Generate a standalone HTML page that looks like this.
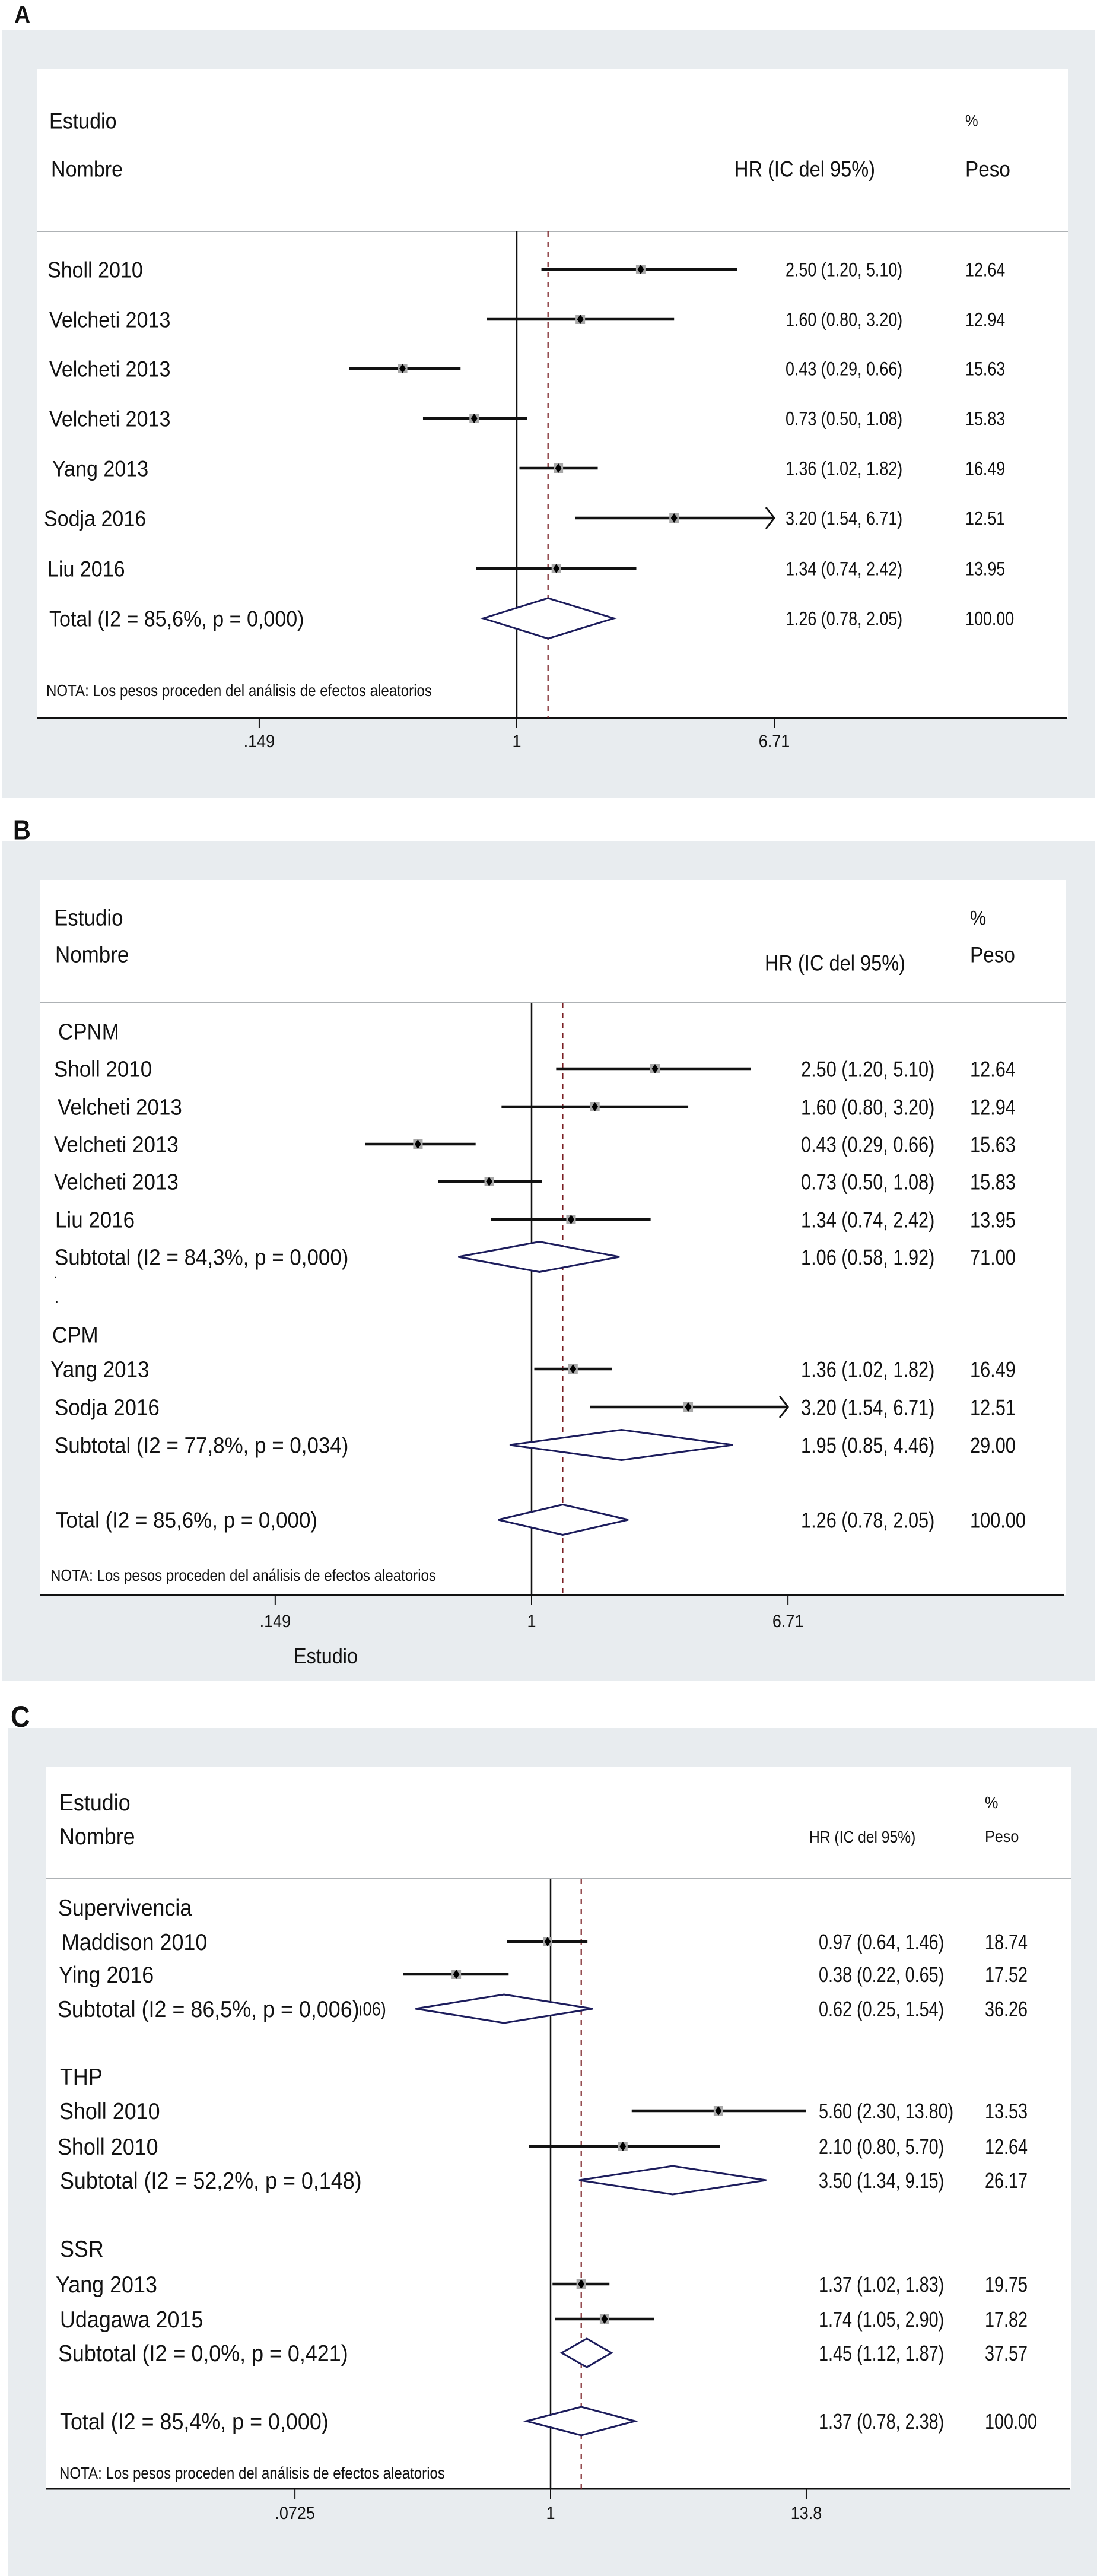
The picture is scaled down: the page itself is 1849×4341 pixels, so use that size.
<!DOCTYPE html>
<html><head><meta charset="utf-8"><style>html,body{margin:0;padding:0;background:#fff}svg{display:block}</style></head>
<body>
<svg id="fig" xmlns="http://www.w3.org/2000/svg" width="1849" height="4341" viewBox="0 0 1849 4341"></svg>
<script>
// ===== Panel A data =====
const labelsA = ["Sholl 2010","Velcheti 2013","Velcheti 2013","Velcheti 2013","Yang 2013","Sodja 2016","Liu 2016","Total (I2 = 85,6%, p = 0,000)"];
const typesA  = ["s","s","s","s","s","s","s","d"];
const estA    = [2.50,1.60,0.43,0.73,1.36,3.20,1.34,1.26];
const loA     = [1.20,0.80,0.29,0.50,1.02,1.54,0.74,0.78];
const hiA     = [5.10,3.20,0.66,1.08,1.82,6.71,2.42,2.05];
const weightA = [12.64,12.94,15.63,15.83,16.49,12.51,13.95,100.00];
const ticksA  = [0.149,1,6.71];
const tickLabelsA = [".149","1","6.71"];
const overallA = 1.26;
// ===== Panel B data =====
const labelsB = ["CPNM","Sholl 2010","Velcheti 2013","Velcheti 2013","Velcheti 2013","Liu 2016","Subtotal (I2 = 84,3%, p  = 0,000)","CPM","Yang 2013","Sodja 2016","Subtotal (I2 = 77,8%, p = 0,034)","Total (I2 = 85,6%, p   = 0,000)"];
const typesB  = ["h","s","s","s","s","s","d","h","s","s","d","d"];
const estB    = [null,2.50,1.60,0.43,0.73,1.34,1.06,null,1.36,3.20,1.95,1.26];
const loB     = [null,1.20,0.80,0.29,0.50,0.74,0.58,null,1.02,1.54,0.85,0.78];
const hiB     = [null,5.10,3.20,0.66,1.08,2.42,1.92,null,1.82,6.71,4.46,2.05];
const weightB = [null,12.64,12.94,15.63,15.83,13.95,71.00,null,16.49,12.51,29.00,100.00];
const ticksB  = [0.149,1,6.71];
const tickLabelsB = [".149","1","6.71"];
const overallB = 1.26;
// ===== Panel C data =====
const labelsC = ["Supervivencia","Maddison 2010","Ying 2016","Subtotal (I2 = 86,5%, p = 0,006)","THP","Sholl 2010","Sholl 2010","Subtotal (I2 = 52,2%, p = 0,148)","SSR","Yang 2013","Udagawa 2015","Subtotal (I2 = 0,0%, p = 0,421)","Total (I2 = 85,4%, p = 0,000)"];
const typesC  = ["h","s","s","d","h","s","s","d","h","s","s","d","d"];
const estC    = [null,0.97,0.38,0.62,null,5.60,2.10,3.50,null,1.37,1.74,1.45,1.37];
const loC     = [null,0.64,0.22,0.25,null,2.30,0.80,1.34,null,1.02,1.05,1.12,0.78];
const hiC     = [null,1.46,0.65,1.54,null,13.80,5.70,9.15,null,1.83,2.90,1.87,2.38];
const weightC = [null,18.74,17.52,36.26,null,13.53,12.64,26.17,null,19.75,17.82,37.57,100.00];
const ticksC  = [0.0725,1,13.8];
const tickLabelsC = [".0725","1","13.8"];
const overallC = 1.37;

const NS = "http://www.w3.org/2000/svg";
const svg = document.getElementById("fig");
function E(tag, attrs, parent){
  const e = document.createElementNS(NS, tag);
  for (const k in attrs) e.setAttribute(k, attrs[k]);
  (parent || svg).appendChild(e);
  return e;
}
function T(x, y, s, size, sx, name, anchor, weight){
  const t = E("text", {x:0, y:0, dy:"0.36em", transform:"translate("+x+","+y+") scale("+sx+",1)",
    "font-family":"'Liberation Sans', sans-serif", "font-size":size, fill:"#111",
    "text-anchor":anchor||"start", "font-weight":weight||"normal"});
  t.textContent = s;
  
  
  return t;
}
function fmt(v){ return v.toFixed(2); }

function panel(cfg){
  const g = E("g", {});
  
  
  const bg = E("rect", {x:cfg.gx0, y:cfg.gy0, width:cfg.gx1-cfg.gx0, height:cfg.gy1-cfg.gy0, fill:"#e8ecef"}, g);
  
  
  const wb = E("rect", {x:cfg.wx0, y:cfg.wy0, width:cfg.wx1-cfg.wx0, height:cfg.axisY-cfg.wy0, fill:"#fff"}, g);
  
  
  const hl = E("line", {x1:cfg.wx0, x2:cfg.wx1, y1:cfg.headY, y2:cfg.headY, stroke:"#aeb2b5", "stroke-width":2}, g);
  
  
  const X = v => cfg.x0 + cfg.k*Math.log(v);
  const ax = E("line", {x1:cfg.wx0, x2:cfg.wx1-2, y1:cfg.axisY, y2:cfg.axisY, stroke:"#111", "stroke-width":3}, g);
  
  
  cfg.ticks.forEach((tv,i)=>{
    const tk = E("line", {x1:X(tv), x2:X(tv), y1:cfg.axisY, y2:cfg.axisY+17, stroke:"#111", "stroke-width":2}, g);
    
    
    T(X(tv), cfg.tickY, cfg.tickLabels[i], 30, 0.9, 'x-tick-label', 'middle');
  });
  const zl = E("line", {x1:X(1), x2:X(1), y1:cfg.headY, y2:cfg.axisY, stroke:"#111", "stroke-width":2.5}, g);
  
  
  const ol = E("line", {x1:X(cfg.overall), x2:X(cfg.overall), y1:cfg.headY, y2:cfg.axisY, stroke:"#7a1f24", "stroke-width":2.2, "stroke-dasharray":"9 8"}, g);
  
  
  T(cfg.hdr.estX, cfg.hdr.y1, "Estudio", cfg.lblSize, 0.92, 'header-estudio');
  T(cfg.hdr.nomX, cfg.hdr.y2, "Nombre", cfg.lblSize, 0.92, 'header-nombre');
  T(cfg.hdr.hrX, cfg.hdr.hrY, "HR (IC del 95%)", cfg.hdr.hrSize, 0.88, 'header-hr');
  T(cfg.hdr.pX, cfg.hdr.y1, "%", cfg.hdr.pSize, 0.9, 'header-percent');
  T(cfg.hdr.pX, cfg.hdr.y2, "Peso", cfg.hdr.wSize, 0.9, 'header-peso');
  const xmax = cfg.ticks[cfg.ticks.length-1];
  cfg.labels.forEach((lab,i)=>{
    const y = cfg.rowY[i];
    const typ = cfg.types[i];
    T(cfg.lblX[i], y, lab, cfg.lblSize, 0.92, typ==='h' ? 'subgroup-heading' : (typ==='d' ? 'pooled-label' : 'study-label'));
    if (typ === 'h') return;
    const e = cfg.est[i], lo = cfg.lo[i], hi = cfg.hi[i];
    T(cfg.numX, y, fmt(e)+" ("+fmt(lo)+", "+fmt(hi)+")", cfg.numSize, cfg.numSx, 'hr-ci-value');
    T(cfg.wX, y, fmt(cfg.w[i]), cfg.numSize, cfg.numSx, 'weight-value');
    if (typ === 's'){
      const hx = Math.min(X(hi), X(xmax));
      const ci = E("line", {x1:X(lo), x2:hx, y1:y, y2:y, stroke:"#111", "stroke-width":4.5}, g);
      
      
      if (cfg.arrows && hi >= xmax){
        const ar = E("polyline", {points:(hx-14)+","+(y-18)+" "+hx+","+y+" "+(hx-14)+","+(y+18), fill:"none", stroke:"#111", "stroke-width":3}, g);
        
        
      }
      const sq = E("rect", {x:X(e)-8, y:y-8, width:16, height:16, fill:"#a9a9a9"}, g);
      
      
      const dm = E("polygon", {points:X(e)+","+(y-8)+" "+(X(e)+5.5)+","+y+" "+X(e)+","+(y+8)+" "+(X(e)-5.5)+","+y, fill:"#000"}, g);
      
      
    } else {
      const h = cfg.dh/2;
      const pd = E("polygon", {points:X(lo)+","+y+" "+X(e)+","+(y-h)+" "+X(hi)+","+y+" "+X(e)+","+(y+h), fill:"#fff", stroke:"#1c1c5c", "stroke-width":3}, g);
      
      
    }
  });
  T(cfg.notaX, cfg.notaY, "NOTA: Los pesos proceden del análisis de efectos aleatorios", 28, 0.86, 'note-text');
}

T(24, 24, "A", 42, 0.9, 'panel-label-a', 'start', 'bold');
T(22, 1398, "B", 46, 0.9, 'panel-label-b', 'start', 'bold');
T(18, 2892, "C", 50, 0.9, 'panel-label-c', 'start', 'bold');

panel({name:'panel-a', arrows:true, gx0:4, gy0:51, gx1:1845, gy1:1344, wx0:62, wy0:116, wx1:1800, headY:390, axisY:1210, tickY:1248,
  x0:871, k:228, ticks:ticksA, tickLabels:tickLabelsA, overall:overallA,
  hdr:{estX:83, nomX:86, y1:203, y2:284, hrX:1238, hrY:284, hrSize:37, pX:1627, pSize:27, wSize:37},
  labels:labelsA, types:typesA, est:estA, lo:loA, hi:hiA, w:weightA,
  rowY:[454,538,621,705,789,873,958,1042], lblX:[80,83,83,83,88,74,80,83], lblSize:37,
  numX:1324, wX:1627, numSize:32, numSx:0.84, dh:68, notaX:78, notaY:1163});

panel({name:'panel-b', arrows:true, gx0:4, gy0:1418, gx1:1845, gy1:2832, wx0:67, wy0:1483, wx1:1796, headY:1690, axisY:2688, tickY:2731,
  x0:896, k:227, ticks:ticksB, tickLabels:tickLabelsB, overall:overallB,
  hdr:{estX:91, nomX:93, y1:1546, y2:1608, hrX:1289, hrY:1622, hrSize:37, pX:1635, pSize:34, wSize:37},
  labels:labelsB, types:typesB, est:estB, lo:loB, hi:hiB, w:weightB,
  rowY:[1738,1801,1865,1928,1991,2055,2118,2249,2307,2371,2435,2561], lblX:[98,91,97,91,91,93,92,88,85,92,92,94], lblSize:38,
  numX:1350, wX:1635, numSize:37, numSx:0.83, dh:51, notaX:85, notaY:2654});
T(91, 2147, ".", 20, 1, 'stray-dot');
T(93, 2188, ".", 20, 1, 'stray-dot');
T(549, 2790, "Estudio", 36, 0.9, 'x-axis-title', 'middle');

panel({name:'panel-c', arrows:false, gx0:14, gy0:2912, gx1:1849, gy1:4341, wx0:78, wy0:2978, wx1:1805, headY:3166, axisY:4194, tickY:4234,
  x0:928, k:164.2, ticks:ticksC, tickLabels:tickLabelsC, overall:overallC,
  hdr:{estX:100, nomX:100, y1:3037, y2:3094, hrX:1364, hrY:3095, hrSize:28, pX:1660, pSize:28, wSize:28},
  labels:labelsC, types:typesC, est:estC, lo:loC, hi:hiC, w:weightC,
  rowY:[3214,3272,3327,3385,3499,3557,3617,3674,3789,3849,3908,3965,4080], lblX:[98,104,99,97,101,100,97,101,101,94,101,98,101], lblSize:39,
  numX:1380, wX:1660, numSize:36, numSx:0.8, dh:48, notaX:100, notaY:4167});
T(604, 3385, "ı06)", 32, 0.85, 'stray-text');
</script>
</body></html>
